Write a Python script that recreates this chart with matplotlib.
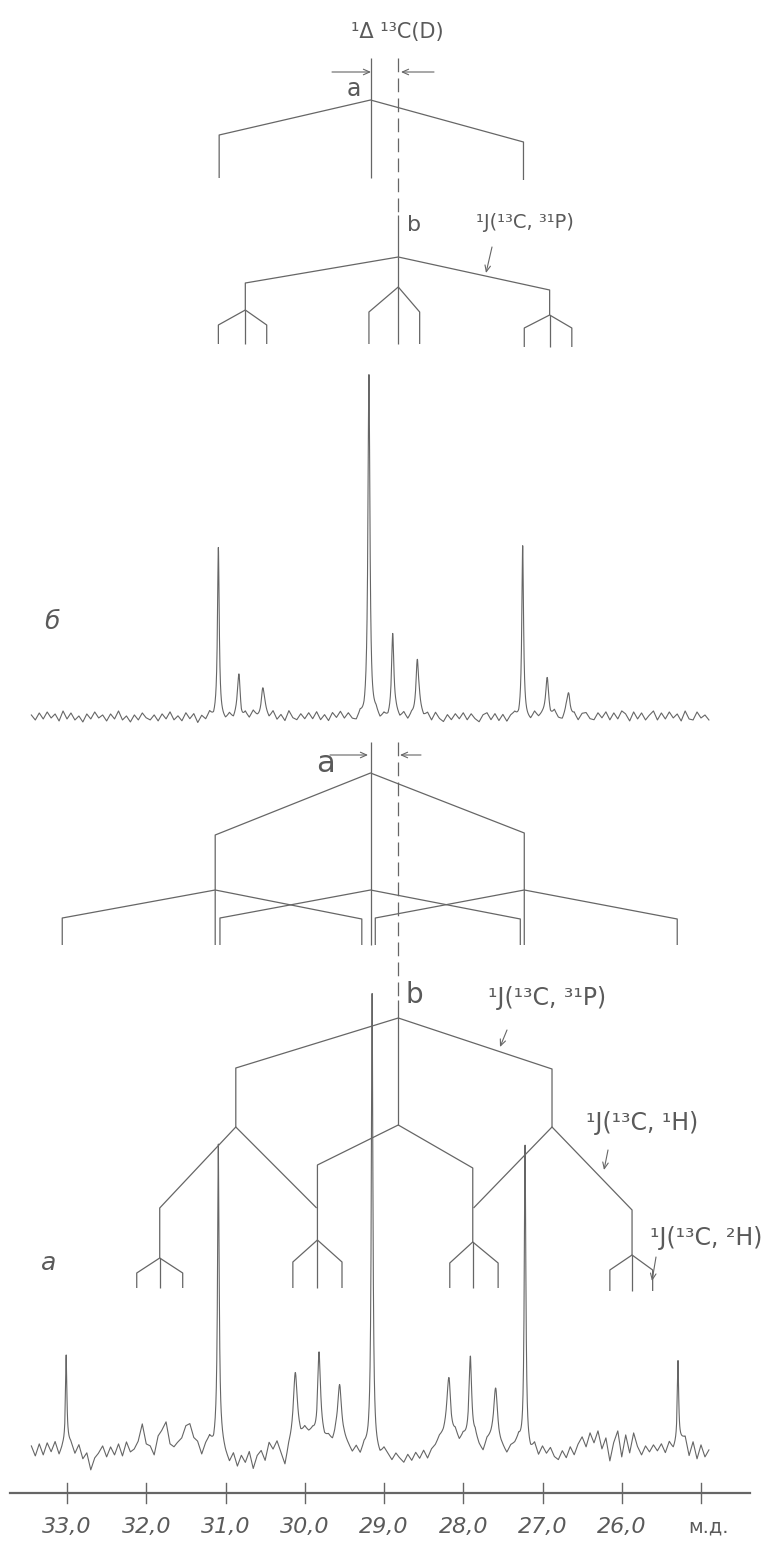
import numpy as np
import matplotlib
matplotlib.use("Agg")
import matplotlib.pyplot as plt

# ---------------- data (chemical shifts in ppm, intensities in relative units) ----------
tick_ppm = [33.0, 32.0, 31.0, 30.0, 29.0, 28.0, 27.0, 26.0, 25.0]
tick_labels = ["33,0", "32,0", "31,0", "30,0", "29,0", "28,0", "27,0", "26,0", ""]
unit_label = "м.д."

# spectrum б
b_peak_ppm = [31.09, 30.83, 30.53, 29.19, 28.89, 28.58, 27.25, 26.94, 26.67]
b_peak_h = [167, 42, 30, 339, 80, 57, 169, 37, 24]
b_peak_w = [0.013, 0.02, 0.026, 0.015, 0.017, 0.022, 0.013, 0.022, 0.026]
b_noise = [2, -3, 4, -2, 5, -1, 3, -4, 6, -2,
           4, -3, 1, -5, 3, -2, 5, -1, 2, -4,
           3, -2, 6, -3, 1, -5, 2, -3, 4, -1,
           -3, 2, -4, 3, -2, 5, -3, 1, -4, 4,
           -2, 3, -6, 1, -3, 4, -2, 3, -1, -4,
           2, -3, 4, -5, 3, -2, 5, -1, -4, 3,
           -2, 5, -3, 2, -4, 6, -1, -3, 3, -2,
           4, -2, 5, -3, 2, -4, 4, -1, 5, -2,
           3, -3, -5, 2, -3, 4, -1, 3, -4, 1,
           -3, 2, 4, -2, 3, -4, 1, -3, 5, -1,
           3, -4, 4, -2, -5, 2, -3, 3, -2, 4,
           -3, 3, -2, -5, 2, 4, -3, 3, -4, 2,
           -5, 1, 3, -3, 2, -2, -4, 4, -1, 2,
           3, -2, 5, -2, -4, 4, -3, 2, -4, 3,
           4, -2, -3, 4, -1, 5, -3, 4, -2, 6,
           3, -4, 5, -2, 4, -3, 2, 6, -3, 4,
           -2, 5, -1, 3, -4, 6, -2, -3, 5, -1,
           2, -3]

# spectrum а
a_peak_ppm = [33.01, 31.09, 30.12, 29.82, 29.56, 29.15, 28.18, 27.91, 27.59, 27.22, 25.29]
a_peak_h = [87, 293, 62, 80, 52, 450, 55, 87, 48, 303, 80]
a_peak_w = [0.01, 0.012, 0.028, 0.02, 0.028, 0.012, 0.028, 0.02, 0.028, 0.012, 0.01]
a_noise = [4, -6, 6, -5, 7, -2, 8, -5, 4, 9,
           7, -4, 5, -9, -3, -20, -8, -3, 4, -7,
           3, -5, 6, -6, 8, -2, 1, 9, 26, 6,
           4, -5, 14, 20, 28, 6, 3, 8, 12, 24,
           26, 12, 8, -5, 6, 12, 4, 14, 8, -4,
           -13, -4, -17, -6, -13, -2, -19, -6, -1, -11,
           7, 0, 8, -4, -17, 2, 10, 18, 12, 20,
           16, 18, 12, 20, 10, 12, 6, 14, 12, 9,
           3, -4, 2, -6, 3, 1, 6, -2, -7, 0,
           -5, -11, -4, -9, -13, -5, -11, -3, -9, -1,
           -9, 0, 4, 12, 14, 21, 10, 16, 7, 13,
           9, 5, 13, 3, -3, 9, 11, 15, 5, 1,
           -5, 3, 5, 11, 2, 1, -3, 5, -6, 3,
           -4, 2, -7, -10, -1, -8, 3, -5, 6, 13,
           3, 17, 7, 19, 1, 12, -11, 8, 19, -7,
           15, -3, 17, 3, -5, 4, -2, 5, -1, 6,
           -3, 8, 1, 9, 11, 13, -6, 8, -9, 5,
           -7, 0]
noise_start_ppm = 33.45
noise_step_ppm = 0.05

# splitting diagram for б
top_delta_ppm = 29.17            # line a
top_center_ppm = 28.82           # line b (dashed)
top_a_P = [31.08, 27.24]
top_b_P = [30.75, 28.82, 26.91]
top_b_D = [[31.09, 30.75, 30.48], [29.19, 28.82, 28.55], [27.23, 26.91, 26.63]]

# splitting diagram for а
mid_a_P = [31.13, 29.17, 27.23]
mid_a_D = [[33.06, 29.28], [31.07, 27.28], [29.11, 25.30]]
low_b_P = [30.87, 28.82, 26.88]
low_b_H = [[31.83, 29.85], [29.84, 27.88], [27.87, 25.87]]
low_b_D = [[32.12, 31.83, 31.54], [30.15, 29.84, 29.53],
           [28.17, 27.88, 27.56], [26.15, 25.87, 25.61]]

# ---------------- layout ----------------
W, H = 772, 1544
PX_PER_PPM = 79.25
X0_PX, X0_PPM = 67, 33.0


def ppm_of(px):
    return X0_PPM - (px - X0_PX) / PX_PER_PPM


fig = plt.figure(figsize=(W / 100, H / 100), dpi=100)
ax = fig.add_axes([0, 0, 1, 1])
ax.set_xlim(ppm_of(0), ppm_of(W))
ax.set_ylim(H, 0)
ax.axis("off")

LC = "#666666"
TC = "#5a5a5a"
LW = 0.9
L = dict(color=LC, lw=LW, solid_capstyle="butt")
DASH = dict(color=LC, lw=LW, linestyle=(0, (11, 5)))


def txt(xpx, ypx, s, size, style="normal", **kw):
    ax.text(ppm_of(xpx), ypx, s, fontsize=size, style=style, color=TC,
            ha=kw.pop("ha", "center"), va=kw.pop("va", "center"),
            family=["DejaVu Sans"], **kw)


def arrow(x1, y1, x2, y2):
    ax.annotate("", xy=(ppm_of(x2), y2), xytext=(ppm_of(x1), y1),
                arrowprops=dict(arrowstyle="->,head_length=0.45,head_width=0.2",
                                color=LC, lw=0.8, shrinkA=0, shrinkB=0))


def spectrum(noise, pk_ppm, pk_h, pk_w, base_y):
    nx = noise_start_ppm - noise_step_ppm * np.arange(len(noise))
    fine = np.arange(nx[-1], nx[0] + 1e-9, 0.002)
    y = np.interp(fine, nx[::-1], np.asarray(noise, float)[::-1])
    for p, h, w in zip(pk_ppm, pk_h, pk_w):
        y = y + h * w ** 2 / ((fine - p) ** 2 + w ** 2)
    ax.plot(fine, base_y - y, color=LC, lw=0.8)


def fan(c, l, r, y_node, y_ends, y_bot):
    ax.plot([l, l, c, r, r], [y_bot, y_ends, y_node, y_ends, y_bot], **L)
    ax.plot([c, c], [y_node, y_bot], **L)


# ---------------- top diagram (for б) ----------------
txt(397, 32, "¹Δ ¹³C(D)", 15)
ax.plot([top_delta_ppm] * 2, [58, 178], **L)
ax.plot([top_center_ppm] * 2, [58, 215], **DASH)
ax.plot([top_center_ppm] * 2, [215, 257], **L)
arrow(332, 72, 371, 72)
arrow(434, 72, 401, 72)
txt(354, 89, "a", 17)
ax.plot([top_a_P[0], top_a_P[0], top_delta_ppm, top_a_P[1], top_a_P[1]],
        [178, 135, 100, 142, 180], **L)
txt(414, 225, "b", 16)
txt(525, 222, "¹J(¹³C, ³¹P)", 14)
arrow(492, 247, 486, 273)
ax.plot([top_b_P[0], top_b_P[0], top_b_P[1], top_b_P[2], top_b_P[2]],
        [310, 283, 257, 290, 315], **L)
ax.plot([top_b_P[1]] * 2, [257, 287], **L)
fan(top_b_D[0][1], top_b_D[0][0], top_b_D[0][2], 310, 325, 344)
fan(top_b_D[1][1], top_b_D[1][0], top_b_D[1][2], 287, 312, 344)
fan(top_b_D[2][1], top_b_D[2][0], top_b_D[2][2], 315, 328, 347)

# ---------------- spectrum б ----------------
txt(52, 622, "б", 18, style="italic")
spectrum(b_noise, b_peak_ppm, b_peak_h, b_peak_w, 717)

# ---------------- middle diagram (for а) ----------------
txt(325, 763, "a", 22)
arrow(330, 755, 368, 755)
arrow(421, 755, 400, 755)
ax.plot([mid_a_P[1]] * 2, [742, 945], **L)
ax.plot([top_center_ppm] * 2, [742, 1000], **DASH)
ax.plot([top_center_ppm] * 2, [1000, 1125], **L)
ax.plot([mid_a_P[0], mid_a_P[0], mid_a_P[1], mid_a_P[2], mid_a_P[2]],
        [945, 835, 773, 833, 945], **L)
for c, (l, r) in zip(mid_a_P, mid_a_D):
    ax.plot([l, l, c, r, r], [945, 918, 890, 919, 945], **L)

# lower b tree
txt(414, 995, "b", 20)
txt(547, 998, "¹J(¹³C, ³¹P)", 17)
arrow(507, 1030, 500, 1047)
ax.plot([low_b_P[0], low_b_P[0], low_b_P[1], low_b_P[2], low_b_P[2]],
        [1127, 1068, 1018, 1069, 1127], **L)
# H splitting
ax.plot([low_b_H[0][0], low_b_H[0][0], low_b_P[0], low_b_H[0][1]],
        [1258, 1208, 1127, 1208], **L)
ax.plot([low_b_H[1][0], low_b_H[1][0], low_b_P[1], low_b_H[1][1], low_b_H[1][1]],
        [1240, 1165, 1125, 1168, 1242], **L)
ax.plot([low_b_H[2][0], low_b_P[2], low_b_H[2][1], low_b_H[2][1]],
        [1208, 1127, 1210, 1255], **L)
txt(642, 1123, "¹J(¹³C, ¹H)", 17)
arrow(608, 1150, 604, 1170)
txt(706, 1238, "¹J(¹³C, ²H)", 17)
arrow(656, 1257, 652, 1281)
# D fans
fan(low_b_D[0][1], low_b_D[0][0], low_b_D[0][2], 1258, 1273, 1288)
fan(low_b_D[1][1], low_b_D[1][0], low_b_D[1][2], 1240, 1262, 1288)
fan(low_b_D[2][1], low_b_D[2][0], low_b_D[2][2], 1242, 1263, 1288)
fan(low_b_D[3][1], low_b_D[3][0], low_b_D[3][2], 1255, 1270, 1291)

# ---------------- spectrum а ----------------
txt(49, 1263, "а", 18, style="italic")
spectrum(a_noise, a_peak_ppm, a_peak_h, a_peak_w, 1450)

# ---------------- axis ----------------
ax.plot([ppm_of(10), ppm_of(750)], [1493, 1493], color=LC, lw=1.6)
for t, lab in zip(tick_ppm, tick_labels):
    ax.plot([t, t], [1483, 1503], color=LC, lw=1.0)
    if lab:
        ax.text(t, 1527, lab, fontsize=16, style="italic", color=TC,
                ha="center", va="center")
txt(708, 1527, unit_label, 14)

fig.savefig("out.png", dpi=100, facecolor="white")
